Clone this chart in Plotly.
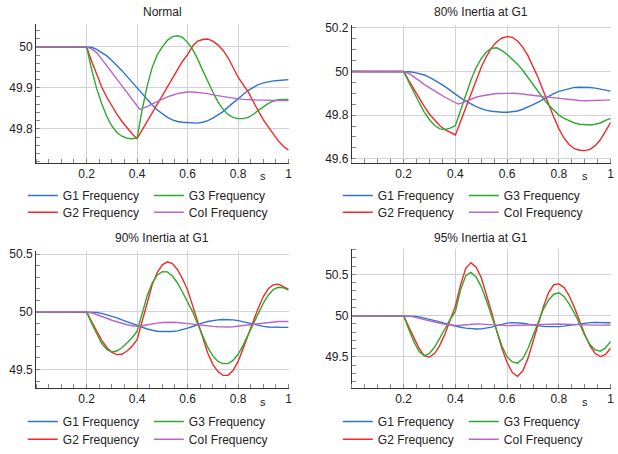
import plotly.graph_objects as go

# ---------------- data ----------------
TIME = [0.0, 0.2, 0.22, 0.24, 0.26, 0.28, 0.30, 0.32, 0.34, 0.36, 0.38, 0.40,
        0.42, 0.44, 0.46, 0.48, 0.50, 0.52, 0.54, 0.56, 0.58, 0.60,
        0.62, 0.64, 0.66, 0.68, 0.70, 0.72, 0.74, 0.76, 0.78, 0.80,
        0.82, 0.84, 0.86, 0.88, 0.90, 0.92, 0.94, 0.96, 0.98, 1.0]
TIME_KINK = [0.0, 0.2, 0.22, 0.24, 0.26, 0.28, 0.30, 0.32, 0.34, 0.36, 0.38, 0.40, 0.41,
             0.42, 0.44, 0.46, 0.48, 0.50, 0.52, 0.54, 0.56, 0.58, 0.60,
             0.62, 0.64, 0.66, 0.68, 0.70, 0.72, 0.74, 0.76, 0.78, 0.80,
             0.82, 0.84, 0.86, 0.88, 0.90, 0.92, 0.94, 0.96, 0.98, 1.0]

SERIES_NAMES = ["G1 Frequency", "G2 Frequency", "G3 Frequency", "CoI Frequency"]
PANEL_TITLES = ["Normal", "80% Inertia at G1", "90% Inertia at G1", "95% Inertia at G1"]

# Normal
normal_g1 = [50, 50, 49.999, 49.994, 49.986, 49.978, 49.967, 49.955, 49.942, 49.928, 49.914, 49.898,
             49.885, 49.870, 49.858, 49.846, 49.836, 49.828, 49.822, 49.818, 49.816, 49.815,
             49.815, 49.814, 49.816, 49.820, 49.826, 49.833, 49.842, 49.853, 49.864, 49.874,
             49.884, 49.894, 49.902, 49.908, 49.912, 49.915, 49.917, 49.918, 49.919, 49.920]
normal_g2 = [50, 50, 49.965, 49.932, 49.902, 49.877, 49.855, 49.836, 49.818, 49.802, 49.788, 49.776,
             49.797, 49.818, 49.839, 49.861, 49.882, 49.904, 49.925, 49.946, 49.965, 49.981,
             50.002, 50.014, 50.018, 50.019, 50.014, 50.005, 49.992, 49.974, 49.950, 49.926,
             49.908, 49.890, 49.866, 49.843, 49.822, 49.804, 49.786, 49.770, 49.757, 49.748]
normal_g3 = [50, 50, 49.945, 49.898, 49.861, 49.830, 49.807, 49.791, 49.782, 49.777, 49.776, 49.778,
             49.846, 49.905, 49.950, 49.981, 50.000, 50.016, 50.025, 50.027, 50.023, 50.011,
             49.994, 49.970, 49.942, 49.914, 49.890, 49.866, 49.848, 49.835, 49.828, 49.825,
             49.825, 49.828, 49.835, 49.845, 49.854, 49.862, 49.868, 49.871, 49.872, 49.872]
normal_coi = [50, 50, 49.995, 49.986, 49.970, 49.954, 49.938, 49.922, 49.906, 49.890, 49.874, 49.858, 49.848,
              49.850, 49.854, 49.861, 49.867, 49.873, 49.878, 49.882, 49.886, 49.888, 49.890,
              49.890, 49.889, 49.888, 49.886, 49.883, 49.881, 49.878, 49.876, 49.874, 49.873,
              49.872, 49.871, 49.870, 49.870, 49.870, 49.869, 49.869, 49.869, 49.869, 49.869]

# 80% inertia at G1
i80_g1 = [50, 50, 49.999, 49.996, 49.991, 49.984, 49.973, 49.961, 49.946, 49.931, 49.913, 49.896,
          49.879, 49.864, 49.851, 49.839, 49.830, 49.822, 49.818, 49.815, 49.813, 49.813,
          49.815, 49.819, 49.827, 49.836, 49.848, 49.860, 49.873, 49.887, 49.899, 49.909,
          49.916, 49.922, 49.927, 49.928, 49.928, 49.927, 49.924, 49.919, 49.915, 49.910]
i80_g2 = [50, 50, 49.958, 49.916, 49.876, 49.839, 49.804, 49.775, 49.751, 49.733, 49.719, 49.709,
          49.772, 49.836, 49.901, 49.964, 50.021, 50.070, 50.110, 50.137, 50.154, 50.160,
          50.157, 50.140, 50.112, 50.073, 50.025, 49.970, 49.910, 49.849, 49.791, 49.737,
          49.694, 49.664, 49.646, 49.639, 49.637, 49.643, 49.660, 49.687, 49.724, 49.767]
i80_g3 = [50, 50, 49.951, 49.901, 49.857, 49.813, 49.779, 49.752, 49.737, 49.734, 49.740, 49.752,
          49.821, 49.896, 49.961, 50.018, 50.060, 50.090, 50.107, 50.109, 50.096, 50.078,
          50.058, 50.034, 50.006, 49.973, 49.939, 49.906, 49.875, 49.846, 49.821, 49.800,
          49.785, 49.773, 49.764, 49.758, 49.755, 49.755, 49.758, 49.764, 49.776, 49.785]
i80_coi = [50, 50, 49.991, 49.976, 49.958, 49.940, 49.924, 49.909, 49.896, 49.882, 49.869, 49.857, 49.851,
           49.854, 49.864, 49.875, 49.882, 49.888, 49.893, 49.896, 49.899, 49.900, 49.900,
           49.900, 49.899, 49.897, 49.894, 49.891, 49.888, 49.885, 49.882, 49.879, 49.876,
           49.873, 49.870, 49.869, 49.867, 49.866, 49.866, 49.866, 49.867, 49.869, 49.870]

# 90% inertia at G1
i90_g1 = [50, 50, 49.999, 49.994, 49.986, 49.975, 49.961, 49.947, 49.930, 49.913, 49.896, 49.879,
          49.865, 49.851, 49.840, 49.831, 49.829, 49.826, 49.829, 49.835, 49.845, 49.858,
          49.873, 49.890, 49.904, 49.916, 49.924, 49.930, 49.933, 49.933, 49.930, 49.924,
          49.916, 49.904, 49.893, 49.882, 49.874, 49.868, 49.865, 49.865, 49.865, 49.865]
i90_g2 = [50, 50, 49.916, 49.831, 49.753, 49.691, 49.649, 49.629, 49.632, 49.660, 49.702, 49.758,
          49.921, 50.096, 50.236, 50.343, 50.407, 50.433, 50.419, 50.365, 50.287, 50.190,
          50.055, 49.900, 49.765, 49.640, 49.545, 49.482, 49.449, 49.449, 49.490, 49.570,
          49.683, 49.803, 49.921, 50.034, 50.132, 50.202, 50.236, 50.239, 50.216, 50.194]
i90_g3 = [50, 50, 49.899, 49.809, 49.725, 49.674, 49.652, 49.660, 49.688, 49.730, 49.775, 49.831,
          49.990, 50.140, 50.250, 50.320, 50.348, 50.346, 50.310, 50.250, 50.170, 50.090,
          50.000, 49.893, 49.787, 49.691, 49.618, 49.570, 49.551, 49.551, 49.579, 49.632,
          49.711, 49.803, 49.899, 49.992, 50.076, 50.146, 50.194, 50.213, 50.208, 50.188]
i90_coi = [50, 50, 49.992, 49.978, 49.961, 49.944, 49.927, 49.913, 49.899, 49.888, 49.879, 49.874,
           49.879, 49.888, 49.896, 49.902, 49.907, 49.910, 49.910, 49.907, 49.904, 49.899,
           49.893, 49.888, 49.882, 49.876, 49.874, 49.871, 49.868, 49.868, 49.871, 49.876,
           49.882, 49.890, 49.896, 49.902, 49.907, 49.910, 49.913, 49.916, 49.916, 49.916]

# 95% inertia at G1
i95_g1 = [50, 50, 49.999, 49.995, 49.985, 49.972, 49.957, 49.941, 49.925, 49.905, 49.888, 49.873,
          49.860, 49.850, 49.842, 49.838, 49.840, 49.848, 49.862, 49.880, 49.898, 49.910,
          49.916, 49.915, 49.908, 49.897, 49.886, 49.876, 49.870, 49.867, 49.866, 49.868,
          49.874, 49.884, 49.895, 49.905, 49.912, 49.916, 49.918, 49.918, 49.916, 49.914]
i95_g2 = [50, 50, 49.861, 49.722, 49.603, 49.512, 49.500, 49.544, 49.643, 49.782, 49.940, 50.119,
          50.377, 50.575, 50.643, 50.587, 50.460, 50.260, 50.040, 49.810, 49.600, 49.430,
          49.310, 49.266, 49.330, 49.480, 49.680, 49.900, 50.110, 50.280, 50.375, 50.385,
          50.341, 50.239, 50.097, 49.934, 49.772, 49.635, 49.542, 49.505, 49.530, 49.610]
i95_g3 = [50, 50, 49.833, 49.683, 49.563, 49.516, 49.544, 49.623, 49.730, 49.849, 49.960, 50.052,
          50.317, 50.484, 50.524, 50.470, 50.350, 50.180, 49.990, 49.800, 49.630, 49.500,
          49.440, 49.425, 49.480, 49.600, 49.760, 49.930, 50.080, 50.190, 50.260, 50.278,
          50.230, 50.140, 50.030, 49.900, 49.760, 49.650, 49.585, 49.570, 49.610, 49.690]
i95_coi = [50, 50, 49.995, 49.982, 49.966, 49.950, 49.935, 49.921, 49.908, 49.897, 49.888, 49.882,
           49.885, 49.892, 49.898, 49.900, 49.898, 49.893, 49.887, 49.882, 49.880, 49.880,
           49.881, 49.883, 49.886, 49.890, 49.894, 49.897, 49.899, 49.900, 49.900, 49.899,
           49.896, 49.893, 49.890, 49.888, 49.887, 49.886, 49.886, 49.886, 49.887, 49.888]

X_TICKS = [0.2, 0.4, 0.6, 0.8, 1.0]
X_TICK_TEXT = ["0.2", "0.4", "0.6", "0.8", "1"]
Y_TICKS = [[49.8, 49.9, 50.0], [49.6, 49.8, 50.0, 50.2], [49.5, 50.0, 50.5], [49.5, 50.0, 50.5]]
Y_TICK_TEXT = [["49.8", "49.9", "50"], ["49.6", "49.8", "50", "50.2"],
               ["49.5", "50", "50.5"], ["49.5", "50", "50.5"]]

# ---------------- styling / layout ----------------
W, H = 618, 454
FONT = "Arial, 'Liberation Sans', sans-serif"
COLORS = ["#2f73cf", "#ee2a2a", "#2fa82f", "#b866cc"]
GRID = "#d2d2d2"
AXLINE = "#333333"

panels = [
    dict(times=[TIME, TIME, TIME, TIME_KINK], vals=[normal_g1, normal_g2, normal_g3, normal_coi],
         xdom=[36.3 / W, 290.5 / W], ydom=[1 - 161.7 / H, 1 - 20.7 / H],
         yrange=[49.717, 50.055], minor=0.02),
    dict(times=[TIME, TIME, TIME, TIME_KINK], vals=[i80_g1, i80_g2, i80_g3, i80_coi],
         xdom=[354.2 / W, 614.7 / W], ydom=[1 - 161.7 / H, 1 - 21.7 / H],
         yrange=[49.581, 50.212], minor=0.05),
    dict(times=[TIME] * 4, vals=[i90_g1, i90_g2, i90_g3, i90_coi],
         xdom=[36.3 / W, 290.5 / W], ydom=[1 - 390.7 / H, 1 - 251.7 / H],
         yrange=[49.341, 50.525], minor=0.1),
    dict(times=[TIME] * 4, vals=[i95_g1, i95_g2, i95_g3, i95_coi],
         xdom=[354.2 / W, 614.7 / W], ydom=[1 - 390.7 / H, 1 - 249.0 / H],
         yrange=[49.126, 50.813], minor=0.1),
]

# legend rows (pixel y-centres) and text x starts for each panel
legend_rows = [(195, 212), (195, 212), (425, 443), (425, 443)]
legend_text_x = [63, 380, 63, 380]

fig = go.Figure()
layout = dict(width=W, height=H, margin=dict(l=0, r=0, t=0, b=0),
              paper_bgcolor="white", plot_bgcolor="white",
              font=dict(family=FONT, size=12, color="#222222"), annotations=[])

# row1 legend shows G1 & G3, row2 shows G2 & CoI
row_of_series = [0, 1, 0, 1]
for p, panel in enumerate(panels):
    n = p + 1
    xa = "x" if n == 1 else f"x{n}"
    ya = "y" if n == 1 else f"y{n}"
    leg_ids = [f"legend{2 * p + 1}" if p > 0 else "legend", f"legend{2 * p + 2}"]
    for s in range(4):
        fig.add_trace(go.Scatter(
            x=panel["times"][s], y=panel["vals"][s], mode="lines", name=SERIES_NAMES[s],
            line=dict(color=COLORS[s], width=1.4), xaxis=xa, yaxis=ya,
            legend=leg_ids[row_of_series[s]], hoverinfo="skip"))
    xkey = "xaxis" if n == 1 else f"xaxis{n}"
    ykey = "yaxis" if n == 1 else f"yaxis{n}"
    layout[xkey] = dict(domain=panel["xdom"], anchor=ya, range=[0, 1.0], tickmode="array",
                        tickvals=X_TICKS, ticktext=X_TICK_TEXT, showgrid=True, gridcolor=GRID,
                        gridwidth=1, showline=True, linecolor=AXLINE, linewidth=1, ticks="",
                        zeroline=False, tickfont=dict(size=12, color="#222222"),
                        minor=dict(tickmode="linear", tick0=0, dtick=0.05, ticks="inside",
                                   ticklen=4, tickwidth=1, tickcolor="#888888", showgrid=False))
    layout[ykey] = dict(domain=panel["ydom"], anchor=xa, range=panel["yrange"], tickmode="array",
                        tickvals=Y_TICKS[p], ticktext=Y_TICK_TEXT[p], showgrid=True, gridcolor=GRID,
                        gridwidth=1, showline=True, linecolor=AXLINE, linewidth=1, ticks="",
                        zeroline=False, tickfont=dict(size=12, color="#222222"),
                        minor=dict(tickmode="linear", tick0=50, dtick=panel["minor"], ticks="inside",
                                   ticklen=4, tickwidth=1, tickcolor="#888888", showgrid=False))
    # panel title
    layout["annotations"].append(dict(
        text=PANEL_TITLES[p], xref="paper", yref="paper",
        x=(panel["xdom"][0] + panel["xdom"][1]) / 2,
        y=1 - (8.5 if p < 2 else 238.3) / H, xanchor="center", yanchor="middle",
        showarrow=False, font=dict(size=12, color="#222222")))
    # unit label "s"
    layout["annotations"].append(dict(
        text="s", xref=xa, yref="paper", x=0.9, y=1 - (175 if p < 2 else 405) / H,
        xanchor="center", yanchor="middle", showarrow=False,
        font=dict(size=11, color="#222222")))
    # legends
    for r in range(2):
        layout[leg_ids[r]] = dict(
            orientation="h", x=(legend_text_x[p] - 40) / W, xanchor="left",
            y=1 - legend_rows[p][r] / H, yanchor="middle", entrywidth=81,
            entrywidthmode="pixels", bgcolor="rgba(0,0,0,0)", borderwidth=0,
            font=dict(size=12, color="#222222", family=FONT), itemclick=False,
            itemdoubleclick=False, tracegroupgap=0)

fig.update_layout(**layout)
fig.write_html("out.html")
